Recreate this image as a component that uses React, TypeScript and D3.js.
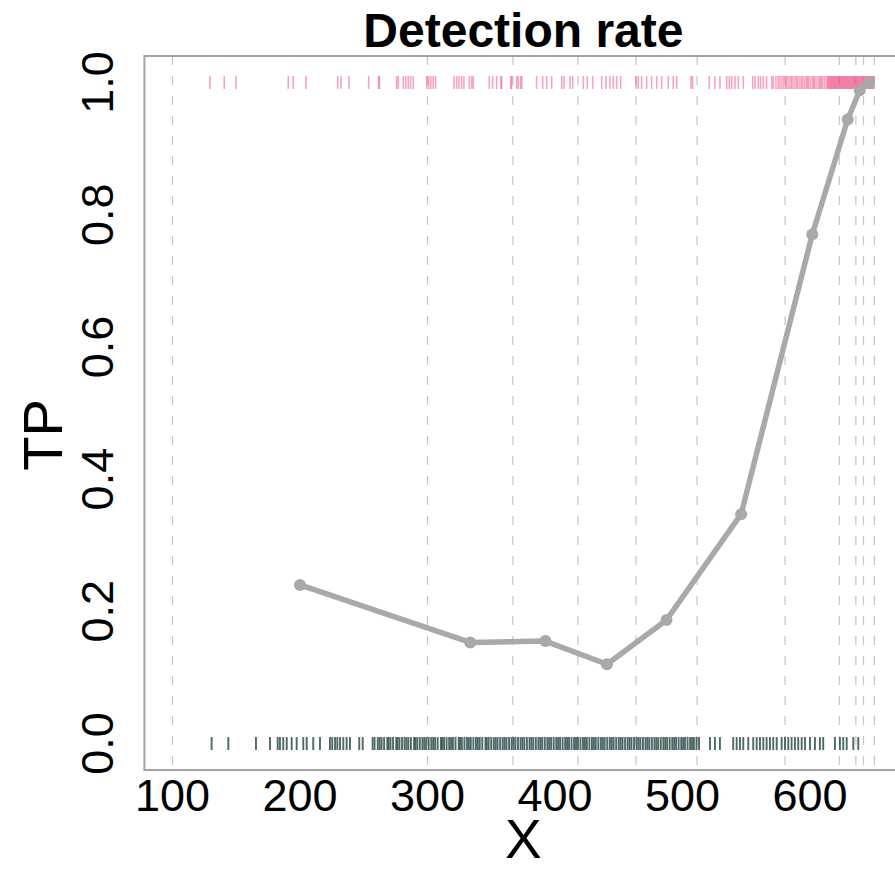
import React from "react";
import * as d3 from "d3";

const title = "Detection rate";
const xLabel = "X";
const yLabel = "TP";
const xTicks = [100, 200, 300, 400, 500, 600];
const yTicks = [0, 0.2, 0.4, 0.6, 0.8, 1.0];

// bin boundaries (dashed guides)
const breaks = [100, 300, 367, 418, 463.5, 511.5, 580.5, 623, 636, 642, 650.5];

// detection rate per bin
const binX = [200, 333.5, 392.5, 440.8, 487.5, 546, 601.8, 629.6, 639, 646.2];
const binTP = [0.24, 0.153, 0.155, 0.12, 0.187, 0.347, 0.77, 0.944, 0.988, 1.0];

// detected (TP = 1) observations
const positives = [
  129.4, 140.6, 149.8, 190.8, 194.7, 204.7, 229.6, 232.2, 238.4, 253.9, 261.7, 262.3,
  275.8, 277.1, 281, 282.9, 284.9, 286.8, 288.9, 299.4, 301, 302.7, 304.5, 306.4,
  320.8, 322.9, 324.7, 326.8, 328.6, 332.8, 334.7, 335.9, 348.5, 351.1, 354.3, 357.6,
  358.2, 365.3, 366, 370, 371.2, 373.1, 373.9, 385.6, 390.4, 393.5, 397.4, 405.3,
  407.1, 411.8, 413.9, 422.2, 425.3, 429.6, 436.6, 440, 443.1, 445.7, 448.4, 451.5,
  463.5, 465.3, 468, 471.9, 475.8, 479.8, 483.7, 488.9, 492.8, 495.5, 506.7, 508,
  521, 525.5, 529.4, 534.7, 536.7, 538.6, 541.2, 543.8, 547.7, 555.1, 556.9, 559.5,
  561.3, 563.4, 566, 570, 571.2, 573.3, 575.1, 576.5, 578, 579.5, 581, 582, 583.5,
  585, 586, 587.5, 589, 590, 591.5, 593, 594, 595.5, 597, 598, 599, 600.5, 602, 603,
  604, 605.5, 607, 608, 609, 610, 611.5, 613, 614, 614.6, 615.3, 616, 616.5, 617.2,
  617.8, 618.5, 619, 619.7, 620.3, 621, 621.5, 622.2, 622.8, 623.5, 624, 624.7, 625.3,
  626, 626.5, 627.2, 627.8, 628.5, 629, 629.7, 630.3, 631, 631.5, 632.2, 632.8, 633.5,
  634, 634.7, 635.3, 636, 636.5, 637.2, 637.8, 638.5, 639, 639.7, 640.3, 641, 641.5,
  642.2, 642.8, 643.5, 644, 644.7, 645.3, 646, 646.5, 647.2, 647.8, 648.5, 649, 649.7,
  650.3,
];

// missed (TP = 0) observations
const negatives = [
  130.7, 143.8, 165.5, 176.5, 182.5, 184.3, 186.9, 189.6, 193.5, 197.4, 202.6, 205.3,
  210.4, 215.7, 223.5, 225.3, 227.5, 229.3, 231.4, 234, 236.6, 239.2, 246.5, 249.2,
  257, 258.5, 261, 262.5, 264, 266, 268.5, 269.5, 271, 273, 275.5, 276.5, 278, 280,
  282, 283.5, 285, 287, 289.5, 290.5, 292, 294, 296, 297.5, 299, 301, 303, 304.5,
  306, 308, 310.5, 311.5, 313, 315, 317, 318.5, 320, 322, 324.5, 325.5, 327, 329,
  331, 332.5, 334, 336, 338, 339.5, 341, 343, 345.5, 346.5, 348, 350, 352, 353.5,
  355, 357, 359, 360.5, 362, 364, 366, 367.5, 369, 371, 373, 374.5, 376, 378, 380,
  381.5, 383, 385, 387, 388.5, 390, 392, 394, 395.5, 397, 399, 401, 402.5, 404, 406,
  408, 409.5, 411, 413, 415, 416.5, 418, 420, 422, 423.5, 425, 427, 429, 430.5, 432,
  434, 436, 437.5, 439, 441, 443, 444.5, 446, 448, 450, 451.5, 453, 455, 457, 458.5,
  460, 462, 464, 465.5, 467, 469, 471, 472.5, 474, 476, 478, 479.5, 481, 483, 485,
  486.5, 488, 490, 492, 493.5, 495, 497, 499, 500.5, 502, 504, 506, 507.5, 509, 511,
  513, 521.6, 525.5, 529.4, 539.8, 542.5, 545.1, 547.7, 551.6, 555.5, 558.2, 560.8,
  563.4, 566, 568.6, 571.2, 573.9, 577.8, 580.4, 583, 585.6, 588.2, 590.8, 593.5,
  596.1, 600, 603.9, 607.8, 610.4, 619.6, 623.5, 626.1, 628.8, 634, 637.9,
];

const W = 895;
const H = 871;
const box = { left: 144.4, right: 902.4, top: 56, bottom: 770 };
const FONT = "'Liberation Sans', Arial, Helvetica, sans-serif";

export default function App() {
  const x = d3.scaleLinear().domain([77.98, 672.5]).range([box.left, box.right]);
  const y = d3.scaleLinear().domain([-0.04, 1.04]).range([box.bottom, box.top]);
  const line = d3
    .line<number>()
    .x((_, i) => x(binX[i]))
    .y((d) => y(d));

  const rugHalf = 6.5;
  return (
    <svg
      width={W}
      height={H}
      style={{ position: "absolute", left: 0, top: 0, display: "block" }}
      fontFamily={FONT}
    >
      <rect x={0} y={0} width={W} height={H} fill="#ffffff" />
      <defs>
        <clipPath id="plotclip">
          <rect x={box.left} y={box.top} width={box.right - box.left} height={box.bottom - box.top} />
        </clipPath>
      </defs>
      <g clipPath="url(#plotclip)">
        {breaks.map((b, i) => (
          <line
            key={"br" + i}
            x1={x(b)}
            x2={x(b)}
            y1={box.top}
            y2={box.bottom}
            stroke="#c4c4c4"
            strokeWidth={1.2}
            strokeDasharray="9,11"
          />
        ))}
        {negatives.map((v, i) => (
          <line
            key={"n" + i}
            x1={x(v)}
            x2={x(v)}
            y1={y(0) - rugHalf}
            y2={y(0) + rugHalf}
            stroke="#2f4f4f"
            strokeOpacity={0.85}
            strokeWidth={1.9}
          />
        ))}
        {positives.map((v, i) => (
          <line
            key={"p" + i}
            x1={x(v)}
            x2={x(v)}
            y1={y(1) - rugHalf}
            y2={y(1) + rugHalf}
            stroke="#ee5a8c"
            strokeOpacity={0.55}
            strokeWidth={1.6}
          />
        ))}
        <path
          d={line(binTP) || ""}
          fill="none"
          stroke="#a9a9a9"
          strokeWidth={5.5}
          strokeLinejoin="round"
          strokeLinecap="round"
        />
        {binTP.map((v, i) => (
          <circle key={"c" + i} cx={x(binX[i])} cy={y(v)} r={6} fill="#a9a9a9" />
        ))}
      </g>
      <rect
        x={box.left}
        y={box.top}
        width={box.right - box.left}
        height={box.bottom - box.top}
        fill="none"
        stroke="#a3a3a3"
        strokeWidth={2}
      />
      {xTicks.map((t) => (
        <text key={"xt" + t} x={x(t)} y={811} textAnchor="middle" fontSize={45} fill="#000">
          {t}
        </text>
      ))}
      {yTicks.map((t) => (
        <text
          key={"yt" + t}
          transform={`translate(113,${y(t)}) rotate(-90)`}
          textAnchor="middle"
          fontSize={45}
          fill="#000"
        >
          {t.toFixed(1)}
        </text>
      ))}
      <text x={(box.left + box.right) / 2} y={47} textAnchor="middle" fontSize={48} fontWeight="bold">
        {title}
      </text>
      <text x={(box.left + box.right) / 2} y={858} textAnchor="middle" fontSize={55}>
        {xLabel}
      </text>
      <text transform={`translate(62,435) rotate(-90)`} textAnchor="middle" fontSize={56}>
        {yLabel}
      </text>
    </svg>
  );
}
